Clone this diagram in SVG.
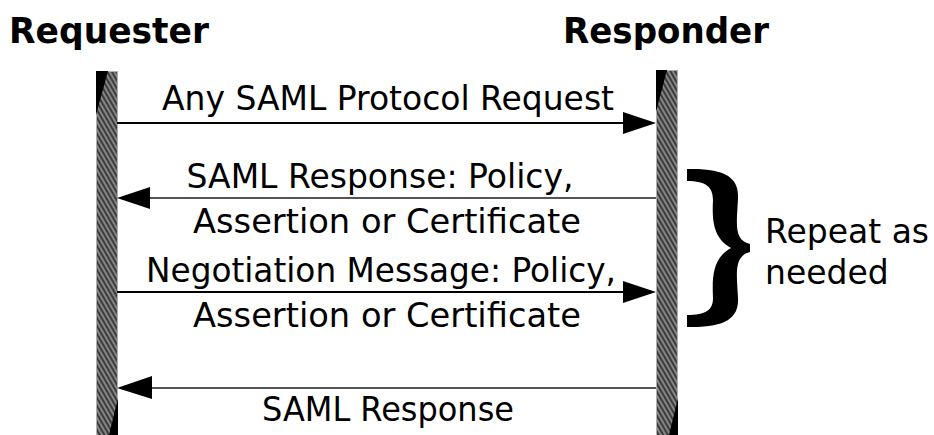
<svg xmlns="http://www.w3.org/2000/svg" width="934" height="435" viewBox="0 0 934 435">
<defs>
<style>
.t{font-family:"DejaVu Sans","Liberation Sans",sans-serif;font-size:33px;fill:#000}
.title{font-family:"DejaVu Sans","Liberation Sans",sans-serif;font-size:36px;font-weight:bold;fill:#000}
.bar{fill:url(#hatch);stroke:#b0b0b0;stroke-width:1}
.wedge{fill:#000}
.lineR{stroke:#000;stroke-width:2;fill:none}
.lineL{stroke:#555;stroke-width:2;fill:none}
.head{fill:#000}
</style>
<pattern id="hatch" width="4" height="4" patternUnits="userSpaceOnUse" patternTransform="rotate(-30)">
<rect width="4" height="4" fill="#858585"/>
<rect width="2" height="4" fill="#3c3c3c"/>
</pattern>
</defs>
<rect width="934" height="435" fill="#fff"/>
<g id="requester">
<text class="title" x="9" y="43" textLength="200" lengthAdjust="spacingAndGlyphs">Requester</text>
<rect class="bar" x="96.5" y="71.5" width="21" height="370"/>
<polygon class="wedge" points="96,71 108,71 96,115"/>
<polygon class="wedge" points="118,435 118,398 109,435"/>
</g>
<g id="responder">
<text class="title" x="563" y="43" textLength="206" lengthAdjust="spacingAndGlyphs">Responder</text>
<rect class="bar" x="656.5" y="70.5" width="21" height="370"/>
<polygon class="wedge" points="656,70 667,70 656,112"/>
<polygon class="wedge" points="678,435 678,398 669,435"/>
</g>
<g id="connectors">
<line class="lineR" x1="117" y1="123" x2="625" y2="123"/>
<polygon class="head" points="656,123 623,112 623,134"/>
<text class="t" x="388" y="110" text-anchor="middle" textLength="452" lengthAdjust="spacingAndGlyphs">Any SAML Protocol Request</text>
<line class="lineL" x1="148" y1="198" x2="656" y2="198"/>
<polygon class="head" points="117,198 150,187 150,209"/>
<text class="t" x="380" y="188" text-anchor="middle" textLength="387" lengthAdjust="spacingAndGlyphs">SAML Response: Policy,</text>
<text class="t" x="387" y="233" text-anchor="middle" textLength="388" lengthAdjust="spacingAndGlyphs">Assertion or Certificate</text>
<line class="lineR" x1="117" y1="292" x2="625" y2="292"/>
<polygon class="head" points="656,292 623,281 623,303"/>
<text class="t" x="381" y="282" text-anchor="middle" textLength="470" lengthAdjust="spacingAndGlyphs">Negotiation Message: Policy,</text>
<text class="t" x="387" y="327" text-anchor="middle" textLength="388" lengthAdjust="spacingAndGlyphs">Assertion or Certificate</text>
<line class="lineL" x1="148" y1="388" x2="656" y2="388"/>
<polygon class="head" points="117,388 152,376 152,399"/>
<text class="t" x="388" y="421" text-anchor="middle" textLength="252" lengthAdjust="spacingAndGlyphs">SAML Response</text>
</g>
<g id="repeat">
<path fill="#000" d="M687,169 C726,168 739,178 738,198 C737,222 733,240 750,244 L750,252 C733,256 737,276 738,298 C739,318 726,328 687,327 L687,315 C706,315 713,310 713,298 C712,276 713,258 731,248 C713,238 712,220 713,200 C713,187 706,181 687,181 Z"/>
<text class="t" x="765" y="243">Repeat as</text>
<text class="t" x="765" y="284">needed</text>
</g>
</svg>
